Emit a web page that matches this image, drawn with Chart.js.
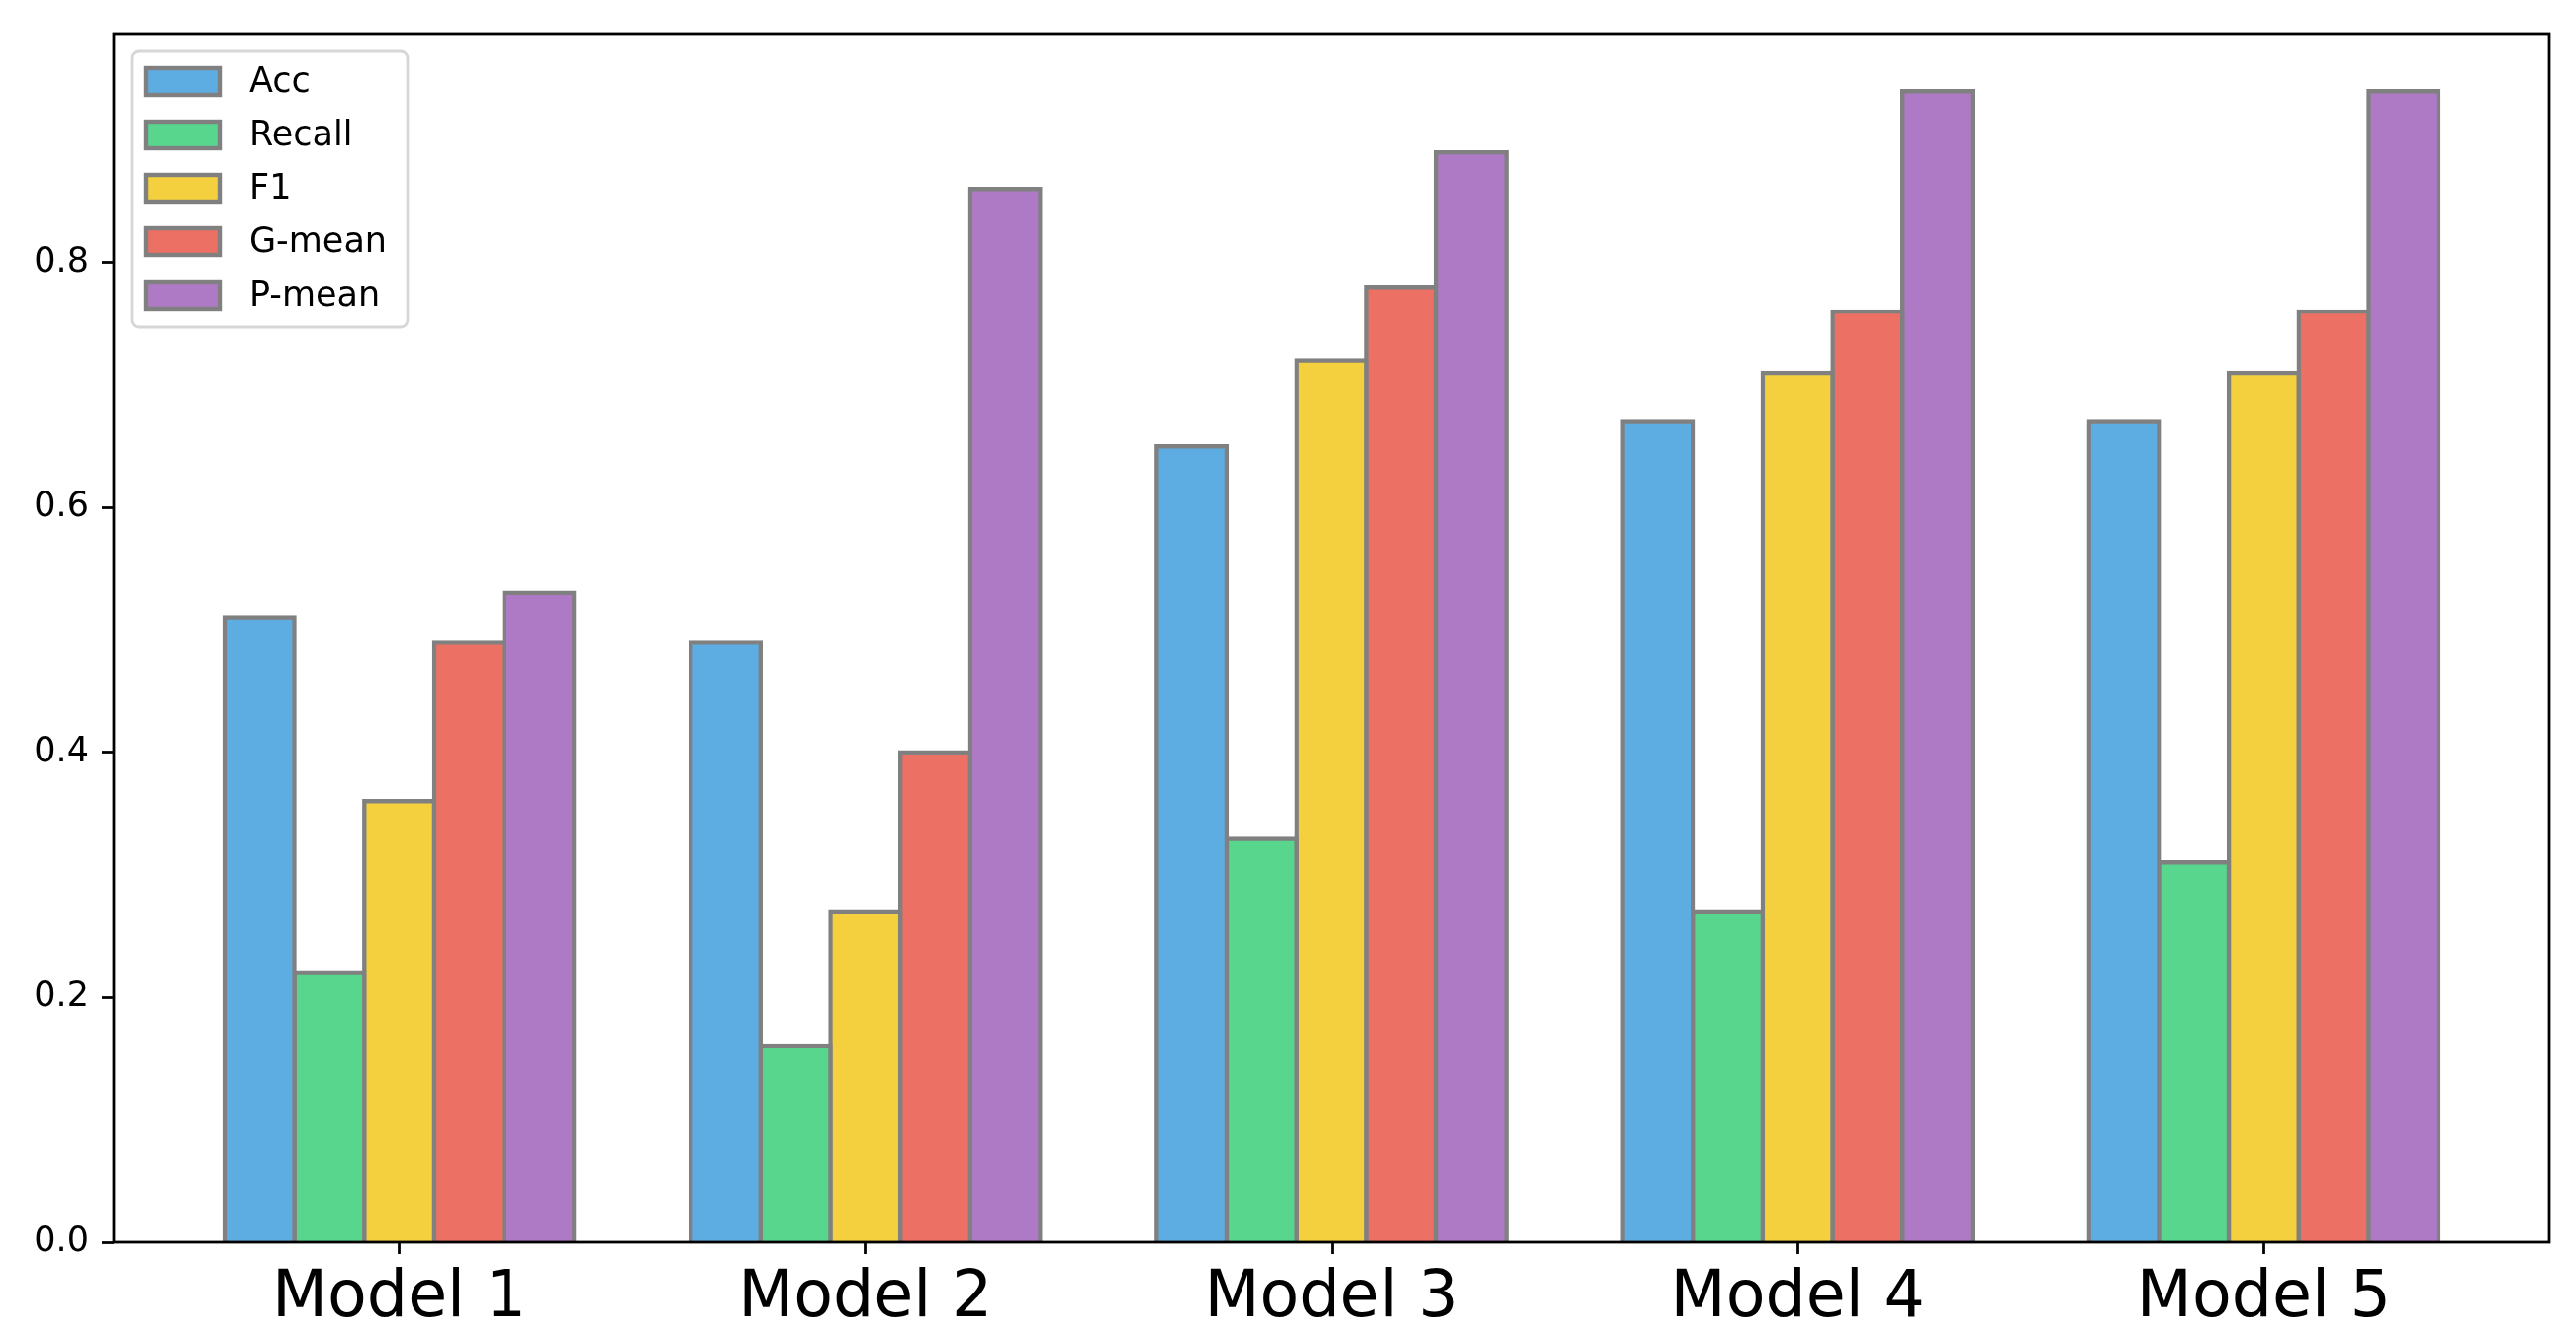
<!DOCTYPE html>
<html>
<head>
<meta charset="utf-8">
<script src="https://cdn.jsdelivr.net/npm/chart.js@4"></script>
<style>
  html, body { margin: 0; padding: 0; background: #fff; }
  #wrap { width: 2604px; height: 1353px; }
</style>
</head>
<body>
<div id="wrap"><canvas id="chart"></canvas></div>
<script>
// data
var models = ['Model 1', 'Model 2', 'Model 3', 'Model 4', 'Model 5'];
var metrics = ['Acc', 'Recall', 'F1', 'G-mean', 'P-mean'];
var acc    = [0.51, 0.49, 0.65, 0.67, 0.67];
var recall = [0.22, 0.16, 0.33, 0.27, 0.31];
var f1     = [0.36, 0.27, 0.72, 0.71, 0.71];
var gmean  = [0.49, 0.40, 0.78, 0.76, 0.76];
var pmean  = [0.53, 0.86, 0.89, 0.94, 0.94];
var yTicks = [0, 0.2, 0.4, 0.6, 0.8];

var colors = ['#5DADE2', '#58D68D', '#F4D03F', '#EC7063', '#AF7AC5'];
var series = [acc, recall, f1, gmean, pmean];

var FONT = 'DejaVu Sans';
var LW = 2.78; // axes line width

// frame around the plot area (matplotlib spines)
var framePlugin = {
    id: 'frame',
    afterDatasetsDraw: function(chart) {
        var a = chart.chartArea, ctx = chart.ctx;
        ctx.save();
        ctx.strokeStyle = '#000';
        ctx.lineWidth = LW;
        ctx.strokeRect(a.left, a.top, a.right - a.left, a.bottom - a.top);
        ctx.restore();
    }
};

// legend box in the upper left corner of the axes
var legendPlugin = {
    id: 'legendBox',
    afterDraw: function(chart) {
        var a = chart.chartArea, ctx = chart.ctx;
        var bx = a.left + 18, by = a.top + 18, bw = 279, bh = 279, r = 7;
        ctx.save();
        ctx.beginPath();
        ctx.roundRect(bx, by, bw, bh, r);
        ctx.fillStyle = 'rgba(255,255,255,0.8)';
        ctx.fill();
        ctx.strokeStyle = '#d6d6d6';
        ctx.lineWidth = LW;
        ctx.stroke();

        ctx.font = '35px "' + FONT + '"';
        ctx.textBaseline = 'middle';
        chart.data.datasets.forEach(function(ds, i) {
            var cy = by + 30.5 + i * 54;
            ctx.fillStyle = ds.backgroundColor;
            ctx.fillRect(bx + 15, cy - 13.5, 74, 27);
            ctx.strokeStyle = ds.borderColor;
            ctx.lineWidth = 4.4;
            ctx.strokeRect(bx + 15, cy - 13.5, 74, 27);
            ctx.fillStyle = '#000';
            ctx.fillText(ds.label, bx + 119, cy + 1);
        });
        ctx.restore();
    }
};

var datasets = metrics.map(function(name, k) {
    return {
        label: name,
        data: series[k].map(function(v, i) { return { x: i, y: v }; }),
        backgroundColor: colors[k],
        borderColor: '#808080',
        borderWidth: 4.4,
        inflateAmount: 2.2,
        borderSkipped: 'start',
        categoryPercentage: 0.75,
        barPercentage: 1.0
    };
});

var ctx = document.getElementById('chart').getContext('2d');
new Chart(ctx, {
    type: 'bar',
    data: { datasets: datasets },
    options: {
        responsive: true,
        maintainAspectRatio: false,
        animation: false,
        layout: { padding: { left: 0, right: 27, top: 33, bottom: 0 } },
        plugins: {
            legend: { display: false },
            tooltip: { enabled: false }
        },
        scales: {
            x: {
                type: 'linear',
                min: -0.6125,
                max: 4.6125,
                offset: false,
                afterBuildTicks: function(scale) {
                    scale.ticks = models.map(function(m, i) { return { value: i }; });
                },
                afterFit: function(scale) { scale.height = 97; },
                grid: {
                    offset: false,
                    drawOnChartArea: false,
                    drawTicks: true,
                    tickLength: 12,
                    tickWidth: LW,
                    color: '#000'
                },
                border: { display: false },
                ticks: {
                    autoSkip: false,
                    maxRotation: 0,
                    padding: 7,
                    color: '#000',
                    font: { family: FONT, size: 65 },
                    callback: function(v) { return models[v]; }
                }
            },
            y: {
                min: 0,
                max: 0.987,
                afterBuildTicks: function(scale) {
                    scale.ticks = yTicks.map(function(v) { return { value: v }; });
                },
                afterFit: function(scale) { scale.width = 115; },
                grid: {
                    drawOnChartArea: false,
                    drawTicks: true,
                    tickLength: 12,
                    tickWidth: LW,
                    color: '#000'
                },
                border: { display: false },
                ticks: {
                    padding: 13,
                    color: '#000',
                    font: { family: FONT, size: 35 },
                    callback: function(v) { return v.toFixed(1); }
                }
            }
        }
    },
    plugins: [framePlugin, legendPlugin]
});
</script>
</body>
</html>
